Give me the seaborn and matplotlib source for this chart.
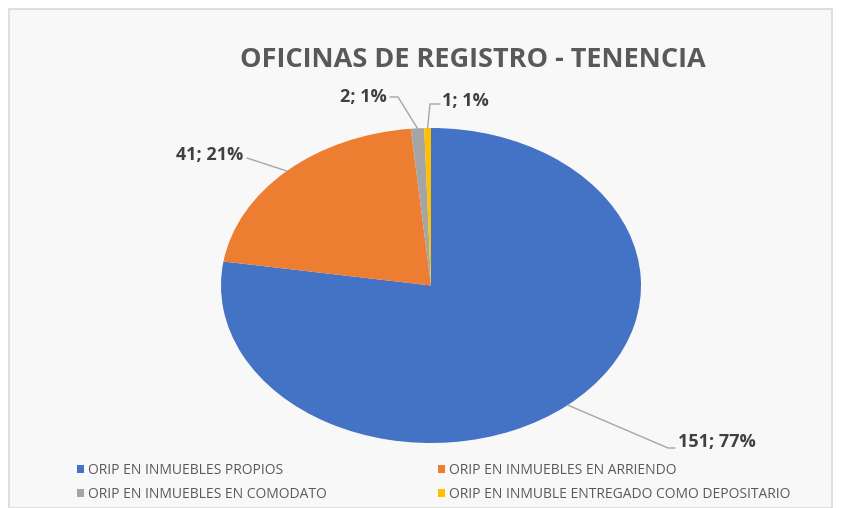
import numpy as np
import matplotlib.pyplot as plt
import seaborn as sns
from matplotlib.patches import Rectangle, Patch

# datos
categorias = ["ORIP EN INMUEBLES PROPIOS", "ORIP EN INMUEBLES EN ARRIENDO",
              "ORIP EN INMUEBLES EN COMODATO", "ORIP EN INMUBLE ENTREGADO COMO DEPOSITARIO"]
valores = [151, 41, 2, 1]
porcentajes = [77, 21, 1, 1]
colores = ["#4472C4", "#ED7D31", "#A5A5A5", "#FFC000"]
titulo = "OFICINAS DE REGISTRO - TENENCIA"

sns.set_theme(style="white")
plt.rcParams['font.family'] = ['Open Sans', 'DejaVu Sans']

W, H = 841, 508
fig = plt.figure(figsize=(W / 100, H / 100), dpi=100)
fig.patch.set_facecolor('white')
fig.patches.append(Rectangle((9 / W, 0), (832 - 9) / W, (H - 9) / H, transform=fig.transFigure,
                             facecolor='#f8f8f8', edgecolor='#d9d9d9', lw=1.2, zorder=-1))

# ejes en pixeles: centro y radios de la elipse
cx, cy, rx, ry = 431, 285.5, 210, 157.5
ax = fig.add_axes([0, 0, 1, 1])
ax.set_facecolor('none')
wedges, _ = ax.pie(valores, colors=colores, startangle=90, counterclock=False,
                   radius=1, wedgeprops=dict(linewidth=0))
ax.set_aspect('auto')
ax.set_xlim(-cx / rx, (W - cx) / rx)
ax.set_ylim((cy - H) / ry, cy / ry)
ax.axis('off')


def px(x, y):
    return (x - cx) / rx, (cy - y) / ry


# posiciones de las etiquetas (pixeles) y lineas guia
guias = [
    ([(668, 448), (675, 448)], (678, 442), 'left'),
    ([(247, 158)], (243, 155), 'right'),
    ([(398, 97), (390, 97)], (387, 97), 'right'),
    ([(430, 104), (440, 104)], (442, 101), 'left'),
]
for w, v, p, (pts, pos, ha) in zip(wedges, valores, porcentajes, guias):
    ang = np.deg2rad((w.theta1 + w.theta2) / 2)
    xs = [np.cos(ang)] + [px(*q)[0] for q in pts]
    ys = [np.sin(ang)] + [px(*q)[1] for q in pts]
    ax.plot(xs, ys, color='#a6a6a6', lw=1)
    tx, ty = px(*pos)
    ax.text(tx, ty, f"{v}; {p}%", ha=ha, va='center', fontsize=13,
            fontweight='bold', color='#404040')

fig.text(473 / W, 1 - 60 / H, titulo, ha='center', va='center', fontsize=19.5,
         fontweight='bold', color='#595959')

handles = [Patch(facecolor=c, edgecolor='none', label=l) for c, l in zip(colores, categorias)]
orden = [0, 2, 1, 3]
fig.legend([handles[i] for i in orden], [categorias[i] for i in orden],
           loc='center', bbox_to_anchor=(434 / W, 1 - 482.5 / H), ncol=2, frameon=False,
           fontsize=10, handlelength=0.5, handleheight=0.5, handletextpad=0.3,
           columnspacing=8, labelspacing=0.65, labelcolor='#595959')

fig.savefig('out.png', dpi=100, facecolor=fig.get_facecolor())
